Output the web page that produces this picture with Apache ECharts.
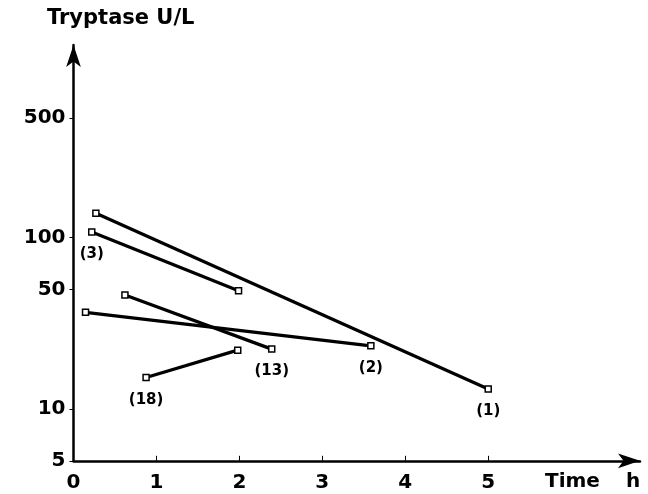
<!DOCTYPE html>
<html><head><meta charset="utf-8">
<script src="https://cdn.jsdelivr.net/npm/echarts@6/dist/echarts.min.js"></script>
<style>html,body{margin:0;padding:0;background:#fff}#c{width:648px;height:494px}</style>
</head><body><div id="c"></div>
<script>
// Data: each patient's two tryptase measurements [time h, U/L]
const patient1 = [[0.27, 139], [5.0, 13.1]];
const patient3 = [[0.22, 108], [1.99, 49]];
const patient13 = [[0.62, 46.3], [2.39, 22.4]];
const patient2 = [[0.145, 36.7], [3.585, 23.4]];
const patient18 = [[0.875, 15.3], [1.98, 22.1]];
const seriesNames = ['(1)', '(3)', '(13)', '(2)', '(18)'];
const labelIndex = [1, 0, 1, 1, 0]; // which point carries the label
const xTicks = [0, 1, 2, 3, 4, 5];
const yTicks = [5, 10, 50, 100, 500];

const allData = [patient1, patient3, patient13, patient2, patient18];
const font = '"DejaVu Sans", Arial, sans-serif';

const series = allData.map((d, i) => ({
  type: 'line',
  name: seriesNames[i],
  data: d.map((p, j) => ({
    value: p,
    label: j === labelIndex[i] ? {
      show: true, position: 'bottom', distance: 11,
      formatter: seriesNames[i], color: '#000',
      fontFamily: font, fontSize: 15, fontWeight: 'bold'
    } : { show: false }
  })),
  symbol: 'rect', symbolSize: 6, showSymbol: true,
  lineStyle: { color: '#000', width: 3.2 },
  itemStyle: { color: '#fff', borderColor: '#000', borderWidth: 1.5 },
  z: 3,
  animation: false
}));

const chart = echarts.init(document.getElementById('c'));
chart.setOption({
  animation: false,
  backgroundColor: '#fff',
  grid: { left: 73.5, right: 8, top: 45, bottom: 33.2, containLabel: false },
  xAxis: {
    type: 'value', min: 0, max: 6.83,
    axisLine: { show: true, onZero: false, lineStyle: { color: '#000', width: 2.5 }, symbol: ['none', 'arrow'], symbolSize: [11, 22] },
    axisTick: { show: true, inside: true, length: 5, lineStyle: { color: '#000', width: 1 }, customValues: xTicks },
    axisLabel: { customValues: xTicks, color: '#000', fontFamily: font, fontWeight: 'bold', fontSize: 20, margin: 12 },
    splitLine: { show: false }
  },
  yAxis: {
    type: 'log', logBase: 10, min: 5, max: 1330,
    axisLine: { show: true, lineStyle: { color: '#000', width: 2.5 }, symbol: ['none', 'arrow'], symbolSize: [11, 22] },
    axisTick: { show: true, length: 4, lineStyle: { color: '#000', width: 1 }, customValues: yTicks },
    axisLabel: { customValues: yTicks, color: '#000', fontFamily: font, fontWeight: 'bold', fontSize: 20, margin: 8 },
    splitLine: { show: false }
  },
  graphic: [
    { type: 'text', left: 47, top: 8, style: { text: 'Tryptase U/L', fill: '#000', font: 'bold 21px ' + font } },
    { type: 'text', left: 545, top: 472, style: { text: 'Time', fill: '#000', font: 'bold 20px ' + font } },
    { type: 'text', left: 626, top: 472, style: { text: 'h', fill: '#000', font: 'bold 20px ' + font } }
  ],
  series: series
});
</script></body></html>
